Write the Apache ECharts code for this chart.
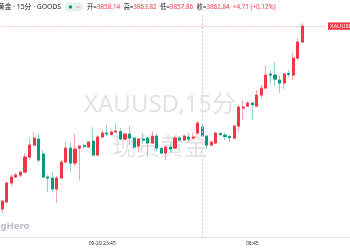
<!DOCTYPE html>
<html><head><meta charset="utf-8">
<script src="https://cdn.jsdelivr.net/npm/echarts@6/dist/echarts.min.js"></script>
<style>html,body{margin:0;padding:0;background:#fff}#c{width:350px;height:250px}</style>
</head><body><div id="c"></div>
<script>
const categories = [
'09-29 18:15','09-29 18:30','09-29 18:45','09-29 19:00','09-29 19:15','09-29 19:30','09-29 19:45','09-29 20:00',
'09-29 20:15','09-29 20:30','09-29 20:45','09-29 21:00','09-29 21:15','09-29 21:30','09-29 21:45','09-29 22:00',
'09-29 22:15','09-29 22:30','09-29 22:45','09-29 23:00','09-29 23:15','09-29 23:30','09-29 23:45',
'09-30 00:00','09-30 00:15','09-30 00:30','09-30 00:45','09-30 01:00','09-30 01:15','09-30 01:30','09-30 01:45',
'09-30 02:00','09-30 02:15','09-30 02:30','09-30 02:45','09-30 03:00','09-30 03:15','09-30 03:30','09-30 03:45',
'09-30 04:00','09-30 04:15','09-30 04:30','09-30 04:45','09-30 05:00',
'09-30 06:00','09-30 06:15','09-30 06:30','09-30 06:45','09-30 07:00','09-30 07:15','09-30 07:30','09-30 07:45',
'09-30 08:00','09-30 08:15','09-30 08:30','09-30 08:45','09-30 09:00','09-30 09:15','09-30 09:30','09-30 09:45',
'09-30 10:00','09-30 10:15','09-30 10:30','09-30 10:45','09-30 11:00','09-30 11:15','09-30 11:30',
'09-30 11:45','09-30 12:00','09-30 12:15','09-30 12:30','09-30 12:45','09-30 13:00','09-30 13:15','09-30 13:30',
'09-30 13:45','09-30 14:00'];

const openP = [3809.02,3811.08,3816.67,3818.43,3819.02,3819.90,3824.31,3827.84,3829.61,3825.20,
3818.43,3818.14,3814.90,3818.14,3822.84,3826.96,3822.55,3826.96,3827.70,3827.25,
3829.02,3824.90,3830.20,3831.37,3830.93,3831.67,3831.82,3829.61,3831.08,3829.90,
3827.55,3829.61,3829.90,3828.43,3830.49,3826.81,3825.49,3827.25,3826.96,3829.90,
3829.31,3830.20,3829.90,3831.37,3833.14,3830.49,3827.84,3828.43,3831.23,3830.78,
3830.34,3829.90,3833.43,3838.73,3839.31,3840.20,3839.31,3842.55,3844.61,3848.73,
3848.43,3846.96,3846.08,3848.87,3848.43,3853.43,3858.14];
const closeP = [3811.37,3816.67,3818.43,3819.02,3819.90,3824.31,3827.84,3829.90,3823.43,3818.43,
3818.14,3814.90,3818.14,3822.84,3826.96,3822.55,3826.67,3827.55,3827.40,3828.73,
3824.90,3830.20,3831.37,3831.08,3831.67,3831.96,3829.61,3831.08,3829.90,3827.25,
3829.61,3829.31,3828.43,3830.49,3826.96,3825.49,3827.25,3826.67,3829.90,3829.31,
3830.49,3829.61,3830.20,3834.31,3830.49,3827.84,3828.73,3831.37,3830.93,3830.34,
3830.05,3833.43,3839.02,3839.02,3840.20,3839.75,3842.55,3844.61,3848.43,3848.43,
3847.25,3846.08,3848.73,3848.58,3853.43,3858.14,3862.84];
const lowP = [3807.84,3810.78,3815.78,3818.14,3818.43,3819.61,3823.43,3827.55,3822.84,3818.14,
3814.02,3814.02,3810.78,3817.84,3822.55,3819.90,3821.67,3817.55,3826.96,3826.96,
3824.61,3824.61,3829.90,3830.49,3830.78,3831.37,3829.31,3829.31,3827.84,3826.67,
3825.78,3828.43,3824.31,3828.14,3826.08,3825.20,3823.43,3825.49,3826.67,3829.02,
3829.02,3828.43,3829.61,3831.08,3830.20,3826.67,3827.55,3828.14,3830.49,3829.31,
3828.73,3829.61,3831.67,3835.20,3839.02,3835.20,3839.02,3841.67,3844.31,3846.08,
3845.20,3843.14,3844.31,3847.84,3846.96,3852.84,3857.86];
const highP = [3811.67,3817.25,3819.31,3819.61,3820.20,3825.49,3829.90,3831.67,3831.08,3826.37,
3819.02,3819.90,3818.73,3823.43,3828.73,3828.43,3831.08,3827.84,3828.14,3829.02,
3833.14,3830.78,3832.25,3833.73,3832.25,3834.31,3832.84,3831.37,3833.43,3830.20,
3829.90,3831.37,3830.20,3831.96,3831.37,3827.25,3827.55,3828.40,3830.49,3830.49,
3830.78,3831.37,3831.37,3834.90,3834.31,3830.78,3829.02,3831.67,3831.67,3831.37,
3830.78,3833.73,3839.61,3841.08,3840.78,3840.49,3844.02,3845.49,3851.08,3849.90,
3852.25,3848.43,3849.02,3849.90,3854.90,3859.31,3863.82];

const tickIndex = [22, 55];
const tickText = ['09-29 23:45', '08:45'];
const sessionBreakIndex = 44;
const priceLineEndIndex = 71;
const lastPrice = 3862.84;
const symbolLabel = 'XAUUSD';
const headerSymbol = '黄金 · 15分 · GOODS';
const headerOpen = '3858.14', headerHigh = '3863.82', headerLow = '3857.86', headerClose = '3862.84';
const headerChange = '+4.71 (+0.12%)';
const watermark1 = 'XAUUSD,15分';
const watermark2 = '现货黄金';
const brandText = 'TradingHero';

const UP = '#f23645', DOWN = '#089981';
const UP_WICK = '#f7a3aa', DOWN_WICK = '#93d2c6';
const FONT = '"Noto Sans","Noto Sans CJK SC",sans-serif';

const wickData = openP.map((o, i) => [o, closeP[i], lowP[i], highP[i]]);
const bodyData = openP.map((o, i) => [o, closeP[i], Math.min(o, closeP[i]), Math.max(o, closeP[i])]);

const chart = echarts.init(document.getElementById('c'), null, {renderer: 'canvas'});
chart.setOption({
  animation: false,
  backgroundColor: '#ffffff',
  grid: {left: -1.3, right: -1.6, top: 14, bottom: 13, containLabel: false},
  xAxis: {
    type: 'category', data: categories, boundaryGap: true,
    axisLine: {show: true, lineStyle: {color: '#e0e3eb', width: 1}},
    axisTick: {show: false},
    splitLine: {show: false},
    axisLabel: {
      interval: (idx) => tickIndex.indexOf(idx) >= 0,
      formatter: (v, idx) => tickText[tickIndex.indexOf(idx)] || '',
      fontSize: 5, color: '#333', margin: 4, fontFamily: FONT
    }
  },
  yAxis: {type: 'value', min: 3800.8, max: 3866.4, show: false, splitLine: {show: false}},
  graphic: [
    {type: 'text', z: 0, x: 160, y: 105, silent: true,
      style: {text: watermark1, fontSize: 24, fontFamily: FONT, fill: '#e4e4e4', align: 'center', verticalAlign: 'middle'}},
    {type: 'text', z: 0, x: 160, y: 146, silent: true,
      style: {text: watermark2, fontSize: 24, fontFamily: '"Noto Sans CJK SC",sans-serif', fill: '#e4e4e4', align: 'center', verticalAlign: 'middle'}},
    {type: 'text', z: 0, x: 29.5, y: 226, silent: true,
      style: {text: brandText, fontSize: 9.5, fontWeight: 'bold', fontFamily: FONT, fill: '#b8bbc2', align: 'right', verticalAlign: 'middle'}},
    {type: 'text', z: 100, x: 61, y: 7.5,
      style: {text: headerSymbol, fontSize: 6.8, fontFamily: FONT, fill: '#131722', align: 'right', verticalAlign: 'middle'}},
    {type: 'rect', z: 100, shape: {x: 65, y: 2.5, width: 18, height: 9, r: 4.5}, style: {fill: '#e2f2ee'}},
    {type: 'circle', z: 101, shape: {cx: 70.5, cy: 7, r: 1.7}, style: {fill: DOWN}},
    {type: 'text', z: 101, x: 78, y: 7,
      style: {text: '=', fontSize: 6.3, fontFamily: FONT, fill: '#f59aa2', align: 'center', verticalAlign: 'middle'}},
    {type: 'text', z: 100, x: 87, y: 7.5,
      style: {
        text: '{k|开=}{v|' + headerOpen + '}  {k|高=}{v|' + headerHigh + '}  {k|低=}{v|' + headerLow + '}  {k|收=}{v|' + headerClose + '}  {v|' + headerChange + '}',
        fontSize: 6.3, fontFamily: FONT, align: 'left', verticalAlign: 'middle',
        rich: {k: {fill: '#131722', fontSize: 6.3, fontFamily: FONT}, v: {fill: UP, fontSize: 6.3, fontFamily: FONT}}
      }}
  ],
  series: [
    {
      type: 'candlestick', name: 'wick', data: wickData, barWidth: 2.6, silent: true, z: 2,
      itemStyle: {color: UP_WICK, color0: DOWN_WICK, borderColor: UP_WICK, borderColor0: DOWN_WICK, borderWidth: 1}
    },
    {
      type: 'candlestick', name: 'body', data: bodyData, barWidth: 2.6, silent: true, z: 3,
      itemStyle: {color: UP, color0: DOWN, borderColor: UP, borderColor0: DOWN, borderWidth: 1},
      markLine: {
        symbol: 'none', silent: true, animation: false,
        data: [
          {xAxis: categories[sessionBreakIndex], lineStyle: {type: [2, 2], color: '#d1d4dc', width: 1}, label: {show: false}},
          [
            {coord: [categories[0], lastPrice], lineStyle: {type: [1, 2], color: 'rgba(242,54,69,0.55)', width: 1}},
            {coord: [categories[priceLineEndIndex], lastPrice],
              label: {show: true, position: 'end', distance: 3, formatter: symbolLabel, fontSize: 5.8, color: '#fff',
                backgroundColor: UP, padding: [1, 2, 0.5, 2], fontFamily: FONT}}
          ]
        ]
      }
    }
  ]
});
</script></body></html>
